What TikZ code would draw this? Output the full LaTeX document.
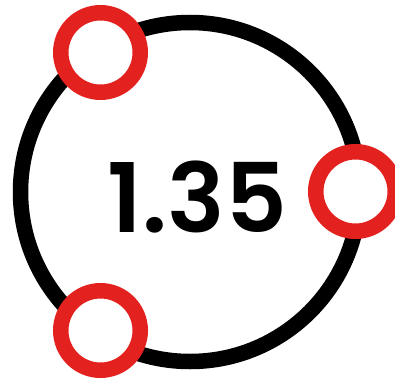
\documentclass[tikz,border=0pt]{standalone}
\usepackage{fontspec}
\newfontfamily\numfont{Poppins}[UprightFont=* SemiBold]
\definecolor{ringred}{HTML}{E3221F}
\begin{document}
\begin{tikzpicture}[x=1pt,y=1pt,
  bigring/.style={draw=black,line width=15.5pt,circle,minimum size=339pt,inner sep=0pt},
  smallring/.style={draw=ringred,fill=white,line width=15.5pt,circle,minimum size=79.5pt,inner sep=0pt}]
\useasboundingbox (0,0) rectangle (395,381);
\node[bigring] (main) at (190,189) {};
\node[smallring] (a) at (100.5,328.5) {};
\node[smallring] (b) at (355.5,189.5) {};
\node[smallring] (c) at (100.5,50.5) {};
\node[anchor=base,inner sep=0pt,font=\numfont\fontsize{96}{96}\selectfont] (t) at (197.5,149) {1.35};
\end{tikzpicture}
\end{document}
